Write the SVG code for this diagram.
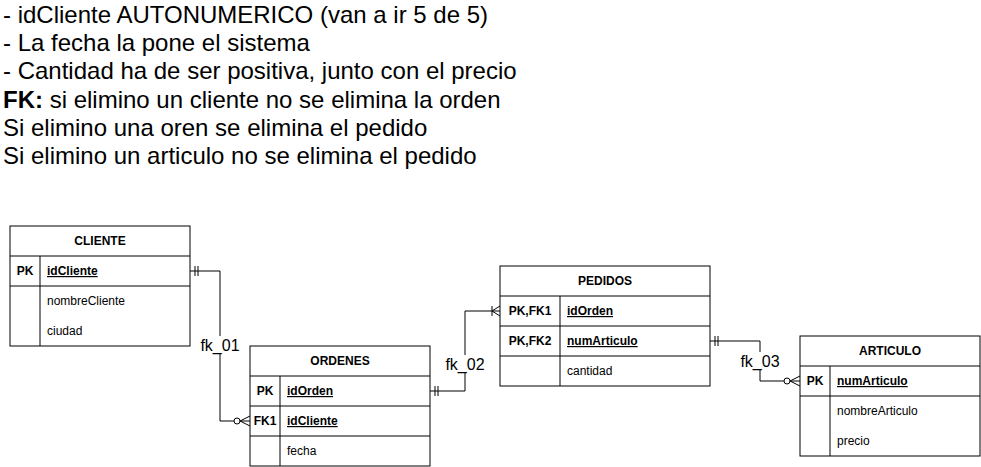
<svg xmlns="http://www.w3.org/2000/svg" width="981" height="467" viewBox="0 0 981 467">
<style>
.note{font-family:"Liberation Sans",Arial,sans-serif;font-size:24px;fill:#000}
.box{fill:#fff;stroke:#000;stroke-width:1}
.ln{fill:none;stroke:#000;stroke-width:1}
.hdr{font-family:"Liberation Sans",Arial,sans-serif;font-size:12px;font-weight:bold;text-anchor:middle;fill:#000}
.key{font-family:"Liberation Sans",Arial,sans-serif;font-size:12px;font-weight:bold;text-anchor:middle;fill:#000}
.att{font-family:"Liberation Sans",Arial,sans-serif;font-size:12px;fill:#000}
.pk{font-weight:bold;text-decoration:underline}
.lbl{font-family:"Liberation Sans",Arial,sans-serif;font-size:16px;text-anchor:middle;fill:#000}
.bg{fill:#fff;stroke:none}
</style>
<g id="notes">
<text class="note" x="3" y="23">- idCliente AUTONUMERICO (van a ir 5 de 5)</text>
<text class="note" x="3" y="51">- La fecha la pone el sistema</text>
<text class="note" x="3" y="79">- Cantidad ha de ser positiva, junto con el precio</text>
<text class="note" x="3" y="108"><tspan font-weight="bold">FK:</tspan> si elimino un cliente no se elimina la orden</text>
<text class="note" x="3" y="136">Si elimino una oren se elimina el pedido</text>
<text class="note" x="3" y="164">Si elimino un articulo no se elimina el pedido</text>
</g>
<g id="connectors">
<path class="ln" d="M190 271 H220 V421 H250"/>
<line class="ln" x1="195" y1="266" x2="195" y2="276"/>
<line class="ln" x1="198" y1="266" x2="198" y2="276"/>
<circle cx="237" cy="421" r="3" fill="#fff" stroke="#000"/>
<path class="ln" d="M250 416 L240 421 L250 426"/>
<rect class="bg" x="198" y="336" width="44" height="18"/>
<text class="lbl" x="220" y="351">fk_01</text>

<path class="ln" d="M430 391 H465 V311 H500"/>
<line class="ln" x1="435" y1="386" x2="435" y2="396"/>
<line class="ln" x1="438" y1="386" x2="438" y2="396"/>
<line class="ln" x1="492" y1="306" x2="492" y2="316"/>
<path class="ln" d="M500 306 L492 311 L500 316"/>
<rect class="bg" x="443" y="355" width="44" height="18"/>
<text class="lbl" x="465" y="370">fk_02</text>

<path class="ln" d="M710 341 H760 V381 H800"/>
<line class="ln" x1="715" y1="336" x2="715" y2="346"/>
<line class="ln" x1="718" y1="336" x2="718" y2="346"/>
<circle cx="787" cy="381" r="3" fill="#fff" stroke="#000"/>
<path class="ln" d="M800 376 L790 381 L800 386"/>
<rect class="bg" x="738" y="352" width="44" height="18"/>
<text class="lbl" x="760" y="367">fk_03</text>
</g>
<g id="cliente">
<rect class="box" x="10" y="226" width="180" height="120"/>
<line class="ln" x1="10" y1="256" x2="190" y2="256"/>
<line class="ln" x1="10" y1="286" x2="190" y2="286"/>
<line class="ln" x1="40" y1="256" x2="40" y2="346"/>
<text class="hdr" x="100" y="245">CLIENTE</text>
<text class="key" x="25" y="275">PK</text>
<text class="att pk" x="47" y="275">idCliente</text>
<text class="att" x="47" y="305">nombreCliente</text>
<text class="att" x="47" y="335">ciudad</text>
</g>
<g id="ordenes">
<rect class="box" x="250" y="346" width="180" height="120"/>
<line class="ln" x1="250" y1="376" x2="430" y2="376"/>
<line class="ln" x1="250" y1="406" x2="430" y2="406"/>
<line class="ln" x1="250" y1="436" x2="430" y2="436"/>
<line class="ln" x1="280" y1="376" x2="280" y2="466"/>
<text class="hdr" x="340" y="365">ORDENES</text>
<text class="key" x="265" y="395">PK</text>
<text class="att pk" x="287" y="395">idOrden</text>
<text class="key" x="265" y="425">FK1</text>
<text class="att pk" x="287" y="425">idCliente</text>
<text class="att" x="287" y="455">fecha</text>
</g>
<g id="pedidos">
<rect class="box" x="500" y="266" width="210" height="120"/>
<line class="ln" x1="500" y1="296" x2="710" y2="296"/>
<line class="ln" x1="500" y1="326" x2="710" y2="326"/>
<line class="ln" x1="500" y1="356" x2="710" y2="356"/>
<line class="ln" x1="560" y1="296" x2="560" y2="386"/>
<text class="hdr" x="605" y="285">PEDIDOS</text>
<text class="key" x="530" y="315">PK,FK1</text>
<text class="att pk" x="567" y="315">idOrden</text>
<text class="key" x="530" y="345">PK,FK2</text>
<text class="att pk" x="567" y="345">numArticulo</text>
<text class="att" x="567" y="375">cantidad</text>
</g>
<g id="articulo">
<rect class="box" x="800" y="336" width="180" height="120"/>
<line class="ln" x1="800" y1="366" x2="980" y2="366"/>
<line class="ln" x1="800" y1="396" x2="980" y2="396"/>
<line class="ln" x1="830" y1="366" x2="830" y2="456"/>
<text class="hdr" x="890" y="355">ARTICULO</text>
<text class="key" x="815" y="385">PK</text>
<text class="att pk" x="837" y="385">numArticulo</text>
<text class="att" x="837" y="415">nombreArticulo</text>
<text class="att" x="837" y="445">precio</text>
</g>
</svg>
